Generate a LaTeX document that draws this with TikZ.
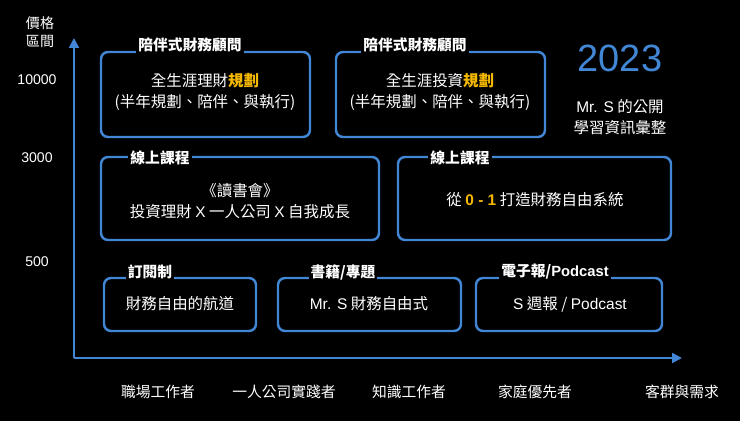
\documentclass[tikz,border=0pt]{standalone}
\usepackage{fontspec}
\setmainfont{Noto Sans CJK TC}
\newfontfamily\lat{Liberation Sans}
\usetikzlibrary{arrows.meta}
\definecolor{bl}{RGB}{66,134,214}
\definecolor{og}{RGB}{245,184,0}
\begin{document}
\begin{tikzpicture}[x=0.05cm,y=-0.05cm,
  card/.style={draw=bl,line width=3.5pt,rounded corners=10pt},
  ttl/.style={fill=black,text=white,font=\fontsize{21}{24}\selectfont\bfseries,inner sep=3pt},
  body/.style={text=white,font=\fontsize{22}{30}\selectfont,align=center},
  lab/.style={text=white,font=\fontsize{21}{24}\selectfont},
  ax/.style={draw=bl,line width=3pt,-{Triangle[length=14pt,width=14pt]}}]
\fill[black] (0,0) rectangle (740,421);
\coordinate (o) at (74,358);
\coordinate (yt) at (74,38);
\coordinate (xt) at (682,358);
\draw[ax] (o) -- (yt);
\draw[ax] (o) -- (xt);
% boxes
\draw[card] (101,52) rectangle (310,137);
\node[ttl] (ta) at (190,45) {陪伴式財務顧問};
\node[body] (ba) at (205,92) {全生涯理財\textcolor{og}{\textbf{規劃}}\\(半年規劃、陪伴、與執行)};
\draw[card] (336,52) rectangle (545,137);
\node[ttl] (tb) at (415,45) {陪伴式財務顧問};
\node[body] (bb) at (440,92) {全生涯投資\textcolor{og}{\textbf{規劃}}\\(半年規劃、陪伴、與執行)};
\draw[card] (101,157) rectangle (379,240);
\node[ttl] (tc) at (160,158) {線上課程};
\node[body] (bc) at (240,201) {《讀書會》\\投資理財 {\lat X} 一人公司 {\lat X} 自我成長};
\draw[card] (398,157) rectangle (671,240);
\node[ttl] (td) at (460,158) {線上課程};
\node[body] (bd) at (535,200) {從 \textcolor{og}{\textbf{\lat 0 - 1}} 打造財務自由系統};
\draw[card] (104,278) rectangle (256,331);
\node[ttl] (te) at (150,272) {訂閱制};
\node[body] (be) at (180,304) {財務自由的航道};
\draw[card] (278,278) rectangle (461,331);
\node[ttl] (tf) at (343,272) {書籍/專題};
\node[body] (bf) at (369,304) {{\lat Mr. S} 財務自由式};
\draw[card] (476,278) rectangle (662,331);
\node[ttl] (tg) at (555,272) {電子報/{\lat Podcast}};
\node[body] (bg) at (570,304) {{\lat S} 週報 / {\lat Podcast}};
% side text
\node[text=bl,font=\fontsize{54}{58}\selectfont\lat] (yr) at (620,58) {2023};
\node[body] (ms) at (620,117) {{\lat Mr. S} 的公開\\學習資訊彙整};
\node[lab,align=center,font=\fontsize{20}{26}\selectfont] (py) at (40,32) {價格\\區間};
\node[lab,font=\fontsize{20}{22}\selectfont\lat] (p1) at (37,80) {10000};
\node[lab,font=\fontsize{20}{22}\selectfont\lat] (p2) at (37,158) {3000};
\node[lab,font=\fontsize{20}{22}\selectfont\lat] (p3) at (37,262) {500};
\node[lab] (x1) at (158,392) {職場工作者};
\node[lab] (x2) at (284,392) {一人公司實踐者};
\node[lab] (x3) at (409,392) {知識工作者};
\node[lab] (x4) at (535,392) {家庭優先者};
\node[lab] (x5) at (682,392) {客群與需求};
\end{tikzpicture}
\end{document}
